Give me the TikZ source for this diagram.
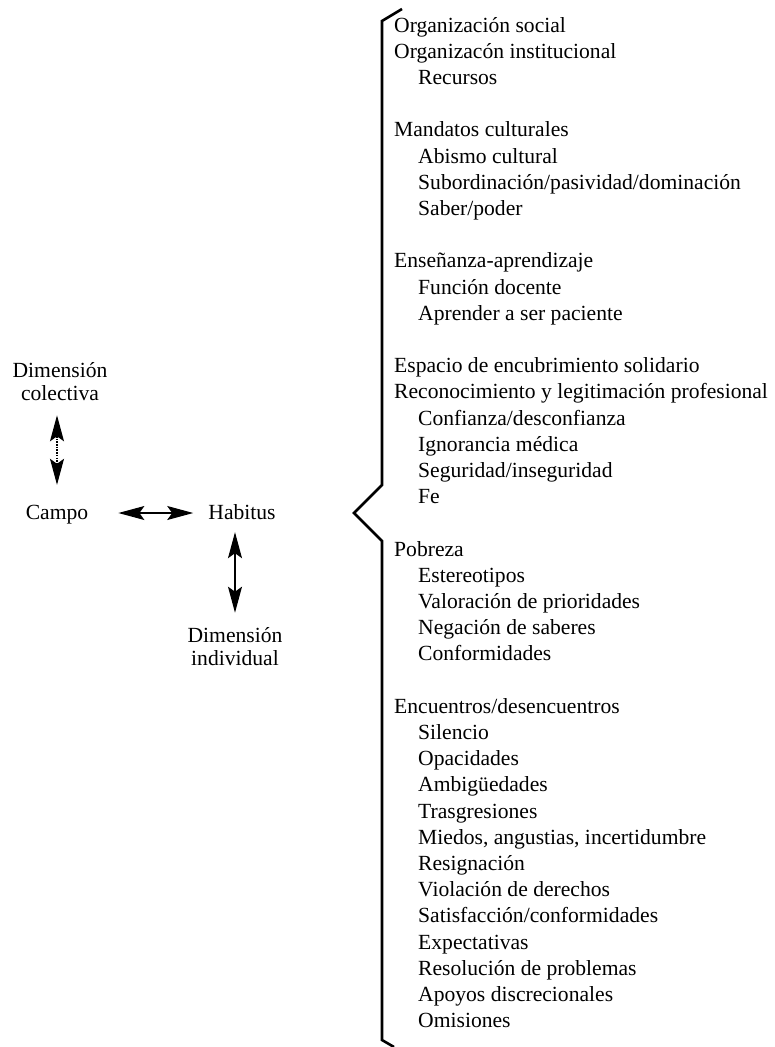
\documentclass[tikz,border=0pt]{standalone}
\usepackage{fontspec}
\setmainfont{Liberation Serif}
\usetikzlibrary{arrows.meta}
\newcommand{\itemfont}{\fontsize{21.6}{26}\selectfont}
\newcommand{\labfont}{\fontsize{21.6}{23}\selectfont}
\begin{document}
\begin{tikzpicture}[x=1pt,y=-1pt,
  item/.style={anchor=west, inner sep=0pt, text height=16pt, text depth=4pt, font=\itemfont},
  lab/.style={align=center, inner sep=0pt, font=\labfont},
  word/.style={inner sep=0pt, text height=16pt, text depth=4pt, font=\labfont},
  biarrow/.style={line width=1.1pt, {Stealth[length=26pt,width=14pt,inset=5pt]}-{Stealth[length=26pt,width=14pt,inset=5pt]}},
  dotline/.style={dash pattern=on 1.6pt off 1.1pt},
  bracepath/.style={line width=2.6pt, line join=miter}]
\fill[white] (0,0) rectangle (774,1047);
\useasboundingbox (0,0) rectangle (774,1047);

% left diagram
\node[lab] (dc) at (60,382) {Dimensión\\colectiva};
\node[word] (campo) at (57,513) {Campo};
\node[word] (habitus) at (242,513) {Habitus};
\node[lab] (di) at (235,647) {Dimensión\\individual};

\draw[biarrow, dotline, shorten <=14pt, shorten >=18pt] (campo.north |- dc.south) -- (campo.north);
\draw[biarrow, shorten <=30pt, shorten >=15pt] (campo.east) -- (habitus.west);
\draw[biarrow, shorten <=15pt, shorten >=9pt] (di.north) -- (di.north |- habitus.south);

% brace
\draw[bracepath] (402,9) -- (382,21) -- (382,485) -- (354,513) -- (382,541) -- (382,1040) -- (394,1047);

% list
\node[item] (l1) at (394,26.0) {Organización social};
\node[item] (l2) at (394,52.2) {Organizacón institucional};
\node[item] (l3) at (418,78.4) {Recursos};
\node[item] (l4) at (394,130.8) {Mandatos culturales};
\node[item] (l5) at (418,157.0) {Abismo cultural};
\node[item] (l6) at (418,183.2) {Subordinación/pasividad/dominación};
\node[item] (l7) at (418,209.4) {Saber/poder};
\node[item] (l8) at (394,261.8) {Enseñanza-aprendizaje};
\node[item] (l9) at (418,288.0) {Función docente};
\node[item] (l10) at (418,314.2) {Aprender a ser paciente};
\node[item] (l11) at (394,366.6) {Espacio de encubrimiento solidario};
\node[item] (l12) at (394,392.8) {Reconocimiento y legitimación profesional};
\node[item] (l13) at (418,419.0) {Confianza/desconfianza};
\node[item] (l14) at (418,445.2) {Ignorancia médica};
\node[item] (l15) at (418,471.4) {Seguridad/inseguridad};
\node[item] (l16) at (418,497.6) {Fe};
\node[item] (l17) at (394,550.0) {Pobreza};
\node[item] (l18) at (418,576.2) {Estereotipos};
\node[item] (l19) at (418,602.4) {Valoración de prioridades};
\node[item] (l20) at (418,628.6) {Negación de saberes};
\node[item] (l21) at (418,654.8) {Conformidades};
\node[item] (l22) at (394,707.2) {Encuentros/desencuentros};
\node[item] (l23) at (418,733.4) {Silencio};
\node[item] (l24) at (418,759.6) {Opacidades};
\node[item] (l25) at (418,785.8) {Ambigüedades};
\node[item] (l26) at (418,812.0) {Trasgresiones};
\node[item] (l27) at (418,838.2) {Miedos, angustias, incertidumbre};
\node[item] (l28) at (418,864.4) {Resignación};
\node[item] (l29) at (418,890.6) {Violación de derechos};
\node[item] (l30) at (418,916.8) {Satisfacción/conformidades};
\node[item] (l31) at (418,943.0) {Expectativas};
\node[item] (l32) at (418,969.2) {Resolución de problemas};
\node[item] (l33) at (418,995.4) {Apoyos discrecionales};
\node[item] (l34) at (418,1021.6) {Omisiones};
\end{tikzpicture}
\end{document}
